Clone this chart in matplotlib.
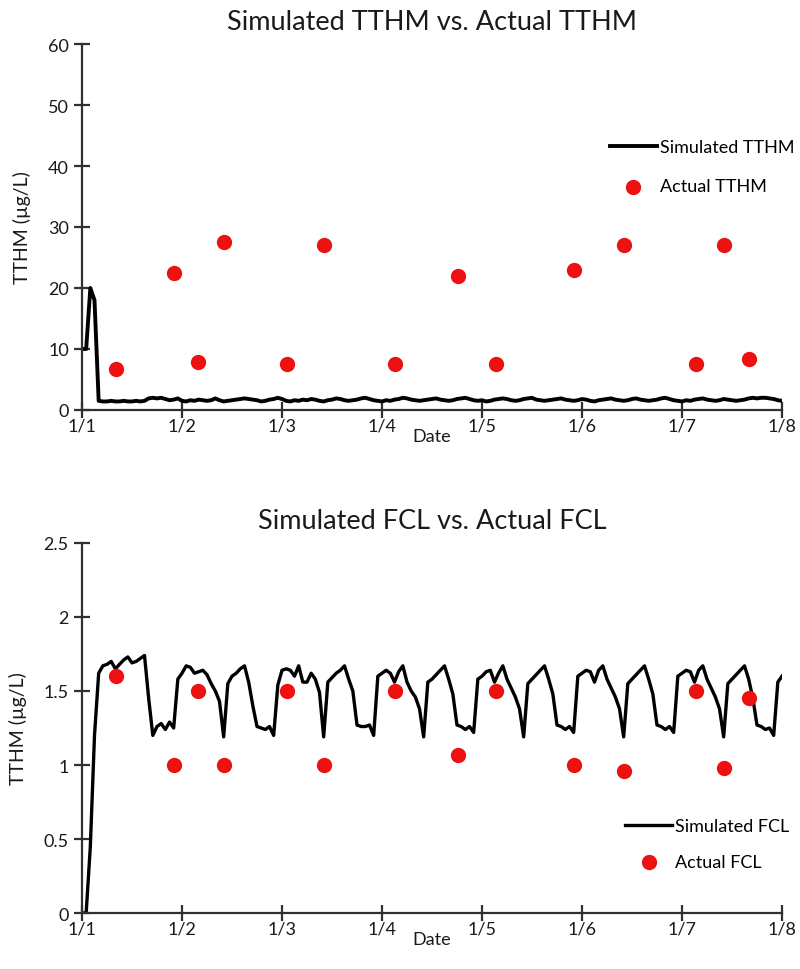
import matplotlib
matplotlib.use("Agg")
import matplotlib.pyplot as plt
import numpy as np

plt.rcParams['font.family'] = ['Lato', 'DejaVu Sans']

# hourly simulation, day 0 .. day 7 (169 samples)
sim_tthm = [
    10, 10, 20, 18, 1.5, 1.4, 1.4, 1.5, 1.4, 1.4, 1.5, 1.4, 1.4, 1.5, 1.4, 1.5, 1.9, 2.0, 1.9, 2.0, 1.8, 1.6, 1.7, 1.9,
    1.5, 1.4, 1.6, 1.5, 1.7, 1.6, 1.5, 1.6, 1.9, 1.6, 1.4, 1.5, 1.6, 1.7, 1.8, 1.9, 1.8, 1.7, 1.6, 1.4, 1.5, 1.7, 1.8, 2.0,
    1.8, 1.5, 1.4, 1.6, 1.5, 1.7, 1.6, 1.8, 1.7, 1.5, 1.4, 1.6, 1.7, 1.9, 1.8, 1.6, 1.5, 1.6, 1.7, 1.9, 2.0, 1.8, 1.6, 1.5,
    1.4, 1.6, 1.5, 1.7, 1.8, 2.0, 1.9, 1.7, 1.6, 1.5, 1.6, 1.7, 1.8, 1.9, 1.7, 1.6, 1.5, 1.6, 1.8, 1.9, 2.0, 1.8, 1.6, 1.5,
    1.6, 1.4, 1.5, 1.7, 1.8, 1.9, 1.8, 1.6, 1.5, 1.6, 1.8, 1.9, 2.0, 1.7, 1.6, 1.5, 1.6, 1.7, 1.8, 1.9, 1.7, 1.6, 1.5, 1.6,
    1.8, 1.7, 1.5, 1.4, 1.6, 1.7, 1.8, 1.9, 1.7, 1.6, 1.5, 1.6, 1.8, 1.9, 1.7, 1.6, 1.5, 1.6, 1.7, 1.9, 2.0, 1.8, 1.6, 1.5,
    1.4, 1.6, 1.5, 1.7, 1.8, 1.9, 1.7, 1.6, 1.5, 1.6, 1.8, 1.7, 1.6, 1.5, 1.6, 1.7, 1.9, 2.0, 1.9, 2.0, 2.0, 1.9, 1.8, 1.6,
    1.5,
]

sim_fcl = [
    0.00, 0.00, 0.45, 1.20, 1.62, 1.67, 1.68, 1.70, 1.65, 1.68, 1.71, 1.73, 1.69, 1.70, 1.72, 1.74, 1.45, 1.20, 1.26, 1.28, 1.24, 1.29, 1.25, 1.58,
    1.62, 1.67, 1.66, 1.62, 1.63, 1.64, 1.61, 1.55, 1.50, 1.43, 1.19, 1.55, 1.60, 1.62, 1.65, 1.67, 1.56, 1.40, 1.26, 1.25, 1.24, 1.26, 1.20, 1.54,
    1.64, 1.65, 1.64, 1.60, 1.67, 1.56, 1.56, 1.62, 1.58, 1.49, 1.19, 1.56, 1.59, 1.62, 1.64, 1.67, 1.58, 1.50, 1.27, 1.26, 1.26, 1.27, 1.20, 1.60,
    1.62, 1.64, 1.62, 1.56, 1.63, 1.67, 1.56, 1.50, 1.46, 1.38, 1.19, 1.56, 1.58, 1.61, 1.64, 1.67, 1.58, 1.48, 1.27, 1.26, 1.24, 1.26, 1.22, 1.58,
    1.60, 1.63, 1.64, 1.56, 1.62, 1.67, 1.58, 1.52, 1.46, 1.38, 1.19, 1.55, 1.58, 1.61, 1.64, 1.67, 1.58, 1.48, 1.27, 1.26, 1.24, 1.26, 1.22, 1.60,
    1.62, 1.64, 1.63, 1.56, 1.64, 1.67, 1.58, 1.52, 1.46, 1.38, 1.19, 1.55, 1.58, 1.61, 1.64, 1.67, 1.58, 1.48, 1.27, 1.26, 1.24, 1.26, 1.22, 1.60,
    1.62, 1.64, 1.63, 1.56, 1.64, 1.67, 1.58, 1.52, 1.46, 1.38, 1.19, 1.55, 1.58, 1.61, 1.64, 1.67, 1.58, 1.45, 1.27, 1.26, 1.24, 1.25, 1.20, 1.56,
    1.60,
]

# sampling days of the actual measurements
sample_days = [0.34, 0.92, 1.16, 1.42, 2.05, 2.42, 3.13, 3.76, 4.14, 4.92, 5.42, 6.14, 6.42, 6.67]
actual_tthm = [6.8, 22.5, 7.8, 27.6, 7.6, 27.1, 7.6, 22.0, 7.6, 23.0, 27.1, 7.6, 27.1, 8.3]
actual_fcl = [1.60, 1.00, 1.50, 1.00, 1.50, 1.00, 1.50, 1.07, 1.50, 1.00, 0.96, 1.50, 0.98, 1.45]

date_labels = ["1/1", "1/2", "1/3", "1/4", "1/5", "1/6", "1/7", "1/8"]

t = np.arange(len(sim_fcl)) / 24.0

fig = plt.figure(figsize=(8, 9.7), dpi=100)
ax1 = fig.add_axes([0.1025, 0.5763, 0.875, 0.3773])
ax2 = fig.add_axes([0.1025, 0.0577, 0.875, 0.3815])

axcol = "#303030"
txtcol = "#1a1a1a"


def style(ax, ymax, ystep, fmt):
    ax.set_xlim(0, 7)
    ax.set_ylim(0, ymax)
    ax.set_xticks(range(8))
    ax.set_xticklabels(date_labels)
    ax.set_yticks(np.arange(0, ymax + ystep / 2, ystep))
    ax.set_yticklabels([fmt(v) for v in np.arange(0, ymax + ystep / 2, ystep)])
    for s in ["top", "right"]:
        ax.spines[s].set_visible(False)
    for s in ["left", "bottom"]:
        ax.spines[s].set_color(axcol)
        ax.spines[s].set_linewidth(1.6)
    ax.tick_params(direction="inout", length=11, width=1.6, color=axcol,
                   labelsize=13, labelcolor=txtcol, pad=0)
    ax.tick_params(axis="y", pad=4)
    ax.set_xlabel("Date", fontsize=13, labelpad=-4, color=txtcol)
    ax.set_ylabel("TTHM (µg/L)", fontsize=14, labelpad=12, color=txtcol)


ax1.plot(t, sim_tthm, color="black", lw=2.8, label="Simulated TTHM")
ax1.scatter(sample_days, actual_tthm, s=100, color="#ee1111", zorder=3, label="Actual TTHM")
style(ax1, 60, 10, lambda v: f"{v:.0f}")
ax1.set_title("Simulated TTHM vs. Actual TTHM", fontsize=19.5, pad=11, color=txtcol)
ax1.legend(loc="upper left", bbox_to_anchor=(0.731, 0.785), frameon=False, fontsize=13,
           handlelength=2.6, handletextpad=0.15, labelspacing=1.3)

ax2.plot(t, sim_fcl, color="black", lw=2.4, label="Simulated FCL")
ax2.scatter(sample_days, actual_fcl, s=100, color="#ee1111", zorder=3, label="Actual FCL")
style(ax2, 2.5, 0.5, lambda v: f"{v:g}")
ax2.set_title("Simulated FCL vs. Actual FCL", fontsize=19.5, pad=11, color=txtcol)
ax2.legend(loc="upper left", bbox_to_anchor=(0.753, 0.30), frameon=False, fontsize=13,
           handlelength=2.6, handletextpad=0.15, labelspacing=1.1)

fig.savefig("out.png", dpi=100)
